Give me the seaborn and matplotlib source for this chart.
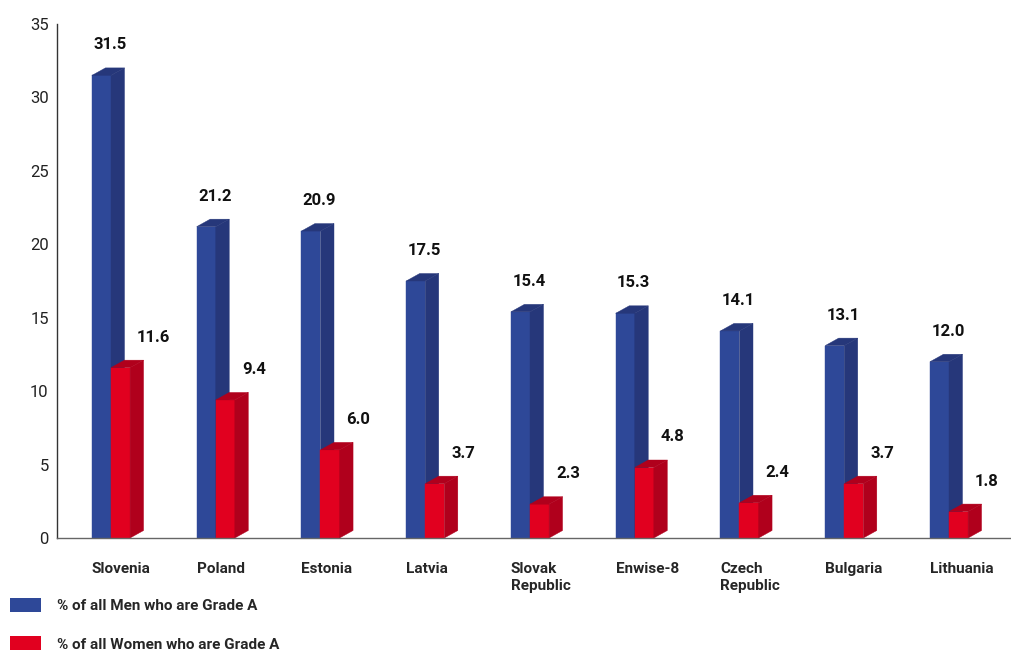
import numpy as np
import pandas as pd
import matplotlib
matplotlib.use("Agg")
import matplotlib.pyplot as plt
from matplotlib.patches import Polygon
import seaborn as sns

# ---- data ----
countries = ["Slovenia", "Poland", "Estonia", "Latvia", "Slovak Republic",
             "Enwise-8", "Czech Republic", "Bulgaria", "Lithuania"]
country_labels = ["Slovenia", "Poland", "Estonia", "Latvia", "Slovak\nRepublic",
                  "Enwise-8", "Czech\nRepublic", "Bulgaria", "Lithuania"]
men_grade_a = [31.5, 21.2, 20.9, 17.5, 15.4, 15.3, 14.1, 13.1, 12.0]
women_grade_a = [11.6, 9.4, 6.0, 3.7, 2.3, 4.8, 2.4, 3.7, 1.8]
series_names = ["% of all Men who are Grade A", "% of all Women who are Grade A"]
y_ticks = [0, 5, 10, 15, 20, 25, 30, 35]

front_colors = ["#2e4898", "#e1001f"]
shade_colors = ["#26377a", "#b0001c"]

df = pd.DataFrame({
    "country": countries * 2,
    "value": men_grade_a + women_grade_a,
    "series": [series_names[0]] * len(countries) + [series_names[1]] * len(countries),
})

sns.set_style("white")
plt.rcParams["font.family"] = ["Roboto", "DejaVu Sans"]

W, H = 1012, 650
fig = plt.figure(figsize=(W / 100, H / 100), dpi=100)
ax = fig.add_axes([57 / W, 112 / H, 955 / W, 514 / H])

sns.barplot(data=df, x="country", y="value", hue="series", order=countries,
            hue_order=series_names, palette=front_colors, saturation=1,
            width=0.364, dodge=True, linewidth=0, edgecolor="none", ax=ax)

ax.set_xlim(-0.5155, -0.5155 + 955 / 104.75)
ax.set_ylim(0, 35)

# pixel -> data scale for the extruded faces
px_x = 1.0 / 104.75
px_y = 35.0 / 514.0
depth_dx = 13.5 * px_x
depth_dy = 7.5 * px_y

for k, cont in enumerate(ax.containers):
    for bar in cont.patches:
        bar.set_zorder(2 + k * 0.2)
        bar.set_edgecolor(front_colors[k])
        bar.set_linewidth(0.3)
        x0 = bar.get_x()
        w = bar.get_width()
        h = bar.get_height()
        x1 = x0 + w
        side = Polygon([(x1, 0), (x1 + depth_dx, depth_dy),
                        (x1 + depth_dx, h + depth_dy), (x1, h)],
                       closed=True, facecolor=shade_colors[k],
                       edgecolor=shade_colors[k], linewidth=0.3,
                       zorder=2.1 + k * 0.2)
        top = Polygon([(x0, h), (x0 + depth_dx, h + depth_dy),
                       (x1 + depth_dx, h + depth_dy), (x1, h)],
                      closed=True, facecolor=shade_colors[k],
                      edgecolor=shade_colors[k], linewidth=0.3,
                      zorder=2.1 + k * 0.2)
        ax.add_patch(side)
        ax.add_patch(top)
        if k == 0:
            ax.annotate(f"{h:.1f}", xy=(x0, h), xytext=(1, 22),
                        textcoords="offset points", ha="left", va="center",
                        fontsize=12, fontweight="bold", color="#111111")
        else:
            ax.annotate(f"{h:.1f}", xy=(x1, h), xytext=(5, 22),
                        textcoords="offset points", ha="left", va="center",
                        fontsize=12, fontweight="bold", color="#111111")

# category labels, left-aligned with the first bar of each group
blue_lefts = [b.get_x() for b in ax.containers[0].patches]
ax.set_xticks(blue_lefts)
ax.set_xticklabels(country_labels, ha="left", va="top", fontsize=11,
                   fontweight="bold", linespacing=1.3)
ax.tick_params(axis="x", length=0, pad=17)
ax.set_xlabel("")
ax.set_ylabel("")

ax.set_yticks(y_ticks)
ax.set_yticklabels([str(t) for t in y_ticks], fontsize=12)
ax.tick_params(axis="y", direction="in", length=17, width=1, color="#222222",
               pad=6, labelcolor="#222222")

for s in ["top", "right"]:
    ax.spines[s].set_visible(False)
ax.spines["left"].set_color("#333333")
ax.spines["left"].set_linewidth(1)
ax.spines["bottom"].set_color("#666666")
ax.spines["bottom"].set_linewidth(1)

handles, labels = ax.get_legend_handles_labels()
if ax.get_legend() is not None:
    ax.get_legend().remove()
fig.legend(handles, labels, loc="upper left",
           bbox_to_anchor=(10 / W, 1 - 598 / H), bbox_transform=fig.transFigure,
           frameon=False, borderpad=0, borderaxespad=0,
           handlelength=2.0, handleheight=1.05, handletextpad=1.1,
           labelspacing=1.5, prop={"family": "Roboto", "weight": "bold", "size": 11})

fig.savefig("out.png", dpi=100)
